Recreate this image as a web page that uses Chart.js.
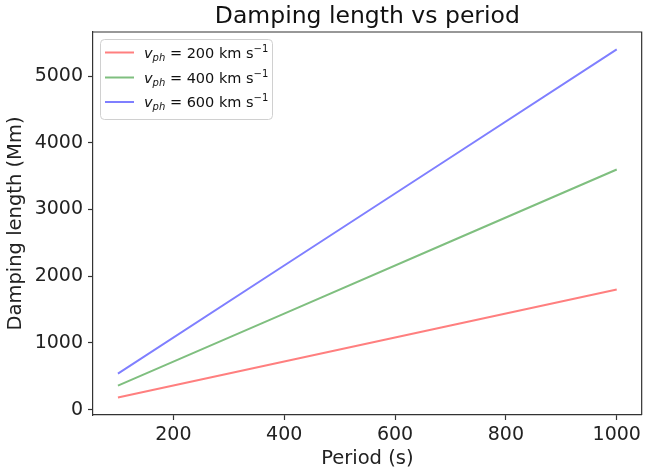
<!DOCTYPE html>
<html>
<head>
<meta charset="utf-8">
<script src="https://cdn.jsdelivr.net/npm/chart.js@4"></script>
<style>
  html, body { margin: 0; padding: 0; background: #fff; }
  #wrap { width: 645px; height: 471px; position: relative; }
</style>
</head>
<body>
<div id="wrap"><canvas id="c"></canvas></div>
<script>
// values
const periods = [100, 400, 700, 1000];
const speeds = [200, 400, 600];
const len200 = [180, 720, 1260, 1800];
const len400 = [360, 1440, 2520, 3600];
const len600 = [540, 2160, 3780, 5400];
const xTicks = [200, 400, 600, 800, 1000];
const yTicks = [0, 1000, 2000, 3000, 4000, 5000];

const lineColors = ['rgba(255,0,0,0.5)', 'rgba(0,128,0,0.5)', 'rgba(0,0,255,0.5)'];
const FONT = '"DejaVu Sans", sans-serif';

const toPoints = (ys) => periods.map((p, i) => ({ x: p, y: ys[i] }));
const datasets = [len200, len400, len600].map((ys, i) => ({
    label: 'v_ph = ' + speeds[i] + ' km s^-1',
    data: toPoints(ys),
    borderColor: lineColors[i],
    borderWidth: 2,
    pointRadius: 0,
    tension: 0,
    fill: false
}));

const framePlugin = {
    id: 'frame',
    afterDraw(chart) {
        const { ctx, chartArea: a } = chart;
        ctx.save();
        // top & right spines
        ctx.strokeStyle = '#333';
        ctx.lineWidth = 1.2;
        ctx.beginPath();
        ctx.moveTo(a.left, a.top);
        ctx.lineTo(a.right, a.top);
        ctx.lineTo(a.right, a.bottom);
        ctx.stroke();

        // title
        ctx.fillStyle = '#111';
        ctx.font = '23.5px ' + FONT;
        ctx.textAlign = 'center';
        ctx.textBaseline = 'alphabetic';
        ctx.fillText('Damping length vs period', (a.left + a.right) / 2, 23);

        // legend
        const bx = 100, by = 39, bw = 172, bh = 80, r = 4;
        ctx.fillStyle = 'rgba(255,255,255,0.8)';
        ctx.strokeStyle = '#d0d0d0';
        ctx.lineWidth = 1;
        ctx.beginPath();
        ctx.roundRect(bx + 0.5, by + 0.5, bw, bh, r);
        ctx.fill();
        ctx.stroke();
        const rows = [52.5, 77.5, 102];
        speeds.forEach((s, i) => {
            const y = rows[i];
            ctx.strokeStyle = lineColors[i];
            ctx.lineWidth = 2;
            ctx.beginPath();
            ctx.moveTo(105, y);
            ctx.lineTo(134, y);
            ctx.stroke();
            ctx.fillStyle = '#111';
            ctx.textAlign = 'left';
            ctx.textBaseline = 'alphabetic';
            let x = 144;
            const base = y + 5;
            ctx.font = 'italic 14.5px ' + FONT;
            ctx.fillText('v', x, base);
            x += ctx.measureText('v').width;
            ctx.font = 'italic 10px ' + FONT;
            ctx.fillText('ph', x, base + 3);
            x += ctx.measureText('ph').width;
            ctx.font = '14.5px ' + FONT;
            const t = ' = ' + s + ' km s';
            ctx.fillText(t, x, base);
            x += ctx.measureText(t).width;
            ctx.font = '10px ' + FONT;
            ctx.fillText('\u22121', x, base - 6);
        });
        ctx.restore();
    }
};

new Chart(document.getElementById('c'), {
    type: 'line',
    data: { datasets },
    options: {
        responsive: true,
        maintainAspectRatio: false,
        animation: false,
        layout: { padding: { left: 0, right: 2, top: 32, bottom: 0 } },
        plugins: { legend: { display: false }, tooltip: { enabled: false } },
        scales: {
            x: {
                type: 'linear',
                min: 55,
                max: 1045,
                afterBuildTicks: (s) => { s.ticks = xTicks.map(v => ({ value: v })); },
                afterFit: (s) => { s.height = 56; },
                grid: { drawOnChartArea: false, drawTicks: true, tickLength: 5, color: '#333', tickWidth: 1.2 },
                border: { display: true, color: '#333', width: 1.2 },
                ticks: { color: '#222', font: { family: FONT, size: 19 }, padding: 4, maxRotation: 0, callback: (v) => String(v) },
                title: { display: true, text: 'Period (s)', color: '#222', font: { family: FONT, size: 19.5 }, padding: { top: 0, bottom: 0 } }
            },
            y: {
                type: 'linear',
                min: -81,
                max: 5661,
                afterBuildTicks: (s) => { s.ticks = yTicks.map(v => ({ value: v })); },
                afterFit: (s) => { s.width = 93; },
                grid: { drawOnChartArea: false, drawTicks: true, tickLength: 5, color: '#333', tickWidth: 1.2 },
                border: { display: true, color: '#333', width: 1.2 },
                ticks: { color: '#222', font: { family: FONT, size: 19 }, padding: 5, callback: (v) => String(v) },
                title: { display: true, text: 'Damping length (Mm)', color: '#222', font: { family: FONT, size: 19.5 }, padding: { top: 4, bottom: 0 } }
            }
        }
    },
    plugins: [framePlugin]
});
</script>
</body>
</html>
